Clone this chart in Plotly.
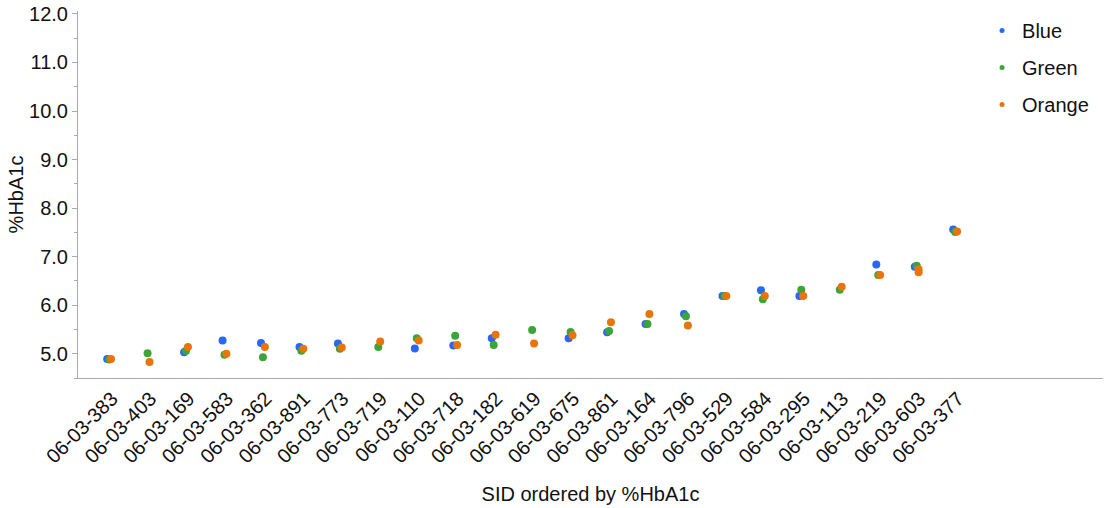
import plotly.graph_objects as go

sids = ["06-03-383", "06-03-403", "06-03-169", "06-03-583", "06-03-362", "06-03-891",
        "06-03-773", "06-03-719", "06-03-110", "06-03-718", "06-03-182", "06-03-619",
        "06-03-675", "06-03-861", "06-03-164", "06-03-796", "06-03-529", "06-03-584",
        "06-03-295", "06-03-113", "06-03-219", "06-03-603", "06-03-377"]

blue = [4.89, None, 5.03, 5.27, 5.22, 5.14, 5.21, None, 5.11, 5.17, 5.32, None,
        5.32, 5.44, 5.61, 5.82, 6.19, 6.31, 6.19, None, 6.84, 6.79, 7.56]
green = [4.88, 5.01, 5.06, 4.98, 4.93, 5.06, 5.10, 5.14, 5.32, 5.37, 5.18, 5.49,
         5.45, 5.47, 5.61, 5.77, 6.19, 6.12, 6.32, 6.32, 6.62, 6.81, 7.51]
orange_sids = sids + ["06-03-603"]
orange = [4.89, 4.83, 5.14, 5.00, 5.14, 5.10, 5.13, 5.25, 5.27, 5.18, 5.39, 5.21,
          5.38, 5.65, 5.82, 5.58, 6.19, 6.19, 6.19, 6.38, 6.62, 6.74, 7.52, 6.68]

series_names = ["Blue", "Green", "Orange"]
colors = ["#2a67f5", "#3ba53b", "#e8740c"]

fig = go.Figure()
for name, xs, ys, c in [("Blue", sids, blue, colors[0]),
                        ("Green", sids, green, colors[1]),
                        ("Orange", orange_sids, orange, colors[2])]:
    fig.add_trace(go.Scatter(x=xs, y=ys, mode="markers", name=name,
                             marker=dict(color=c, size=8), showlegend=False,
                             hoverinfo="x+y"))

for i, (name, c) in enumerate(zip(series_names, colors)):
    fig.add_trace(go.Scatter(x=[None], y=[None], mode="markers", name=name,
                             marker=dict(color=c, size=5), legendgroup=name,
                             showlegend=True))

font = "Liberation Sans, Arial, Helvetica, sans-serif"
fig.update_layout(
    width=1106, height=508,
    margin=dict(l=78, r=3, t=11, b=130),
    paper_bgcolor="white", plot_bgcolor="white",
    font=dict(family=font, size=20, color="#111"),
    scattermode="group", scattergap=0.7,
    legend=dict(x=0.882, y=1.0, xanchor="left", yanchor="top",
                font=dict(size=20, color="#111"), itemwidth=30,
                traceorder="grouped", tracegroupgap=8,
                bgcolor="rgba(0,0,0,0)"),
    xaxis=dict(type="category", categoryorder="array", categoryarray=sids,
               range=[-0.884, 25.77], tickangle=-45, showgrid=False, automargin=False,
               showline=True, linecolor="#aaaaaa", linewidth=1, ticks="",
               tickfont=dict(size=20, color="#111"),
               title=dict(text="SID ordered by %HbA1c", font=dict(size=20), standoff=20)),
    yaxis=dict(range=[4.5, 12.06], dtick=1, tick0=0, tickformat=".1f", automargin=False,
               ticklabeloverflow="allow",
               showgrid=False, zeroline=False, showline=True, linecolor="#aaaaaa",
               linewidth=1, ticks="outside", ticklen=5, tickcolor="#aaaaaa",
               tickfont=dict(size=20, color="#111"),
               minor=dict(dtick=0.5, ticks="outside", ticklen=3, tickcolor="#aaaaaa"),
               title=dict(text="%HbA1c", font=dict(size=20), standoff=0)),
)

fig.write_html("out.html", config={"displayModeBar": False},
               post_script="document.body.style.margin='0px';")
